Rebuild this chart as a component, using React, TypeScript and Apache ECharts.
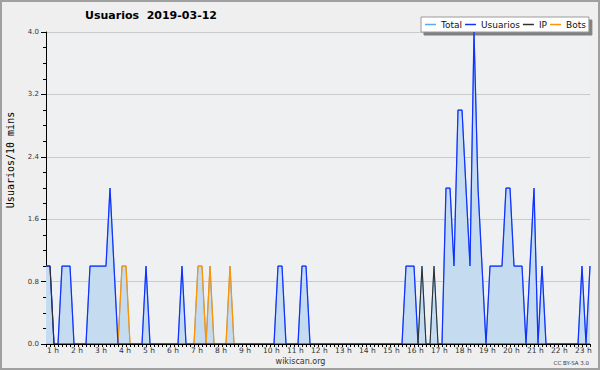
import { useEffect, useRef } from "react";
import * as echarts from "echarts";

// 10-minute points from 1:00 to 23:40
const START_HOUR = 1;
const POINTS = 137;
const categories: string[] = Array.from({ length: POINTS }, (_, i) =>
  `${START_HOUR + Math.floor(i / 6)}:${String((i % 6) * 10).padStart(2, "0")}`
);

const seriesNames = ["Total", "Usuarios", "IP", "Bots"];

// one row per hour (6 points of 10 minutes)
const total = [
  1, 1, 0, 0, 1, 1, // 1h
  1, 0, 0, 0, 0, 1, // 2h
  1, 1, 1, 1, 2, 1, // 3h
  0, 1, 1, 0, 0, 0, // 4h
  0, 1, 0, 0, 0, 0, // 5h
  0, 0, 0, 0, 1, 0, // 6h
  0, 0, 1, 1, 0, 1, // 7h
  0, 0, 0, 0, 1, 0, // 8h
  0, 0, 0, 0, 0, 0, // 9h
  0, 0, 0, 0, 1, 1, // 10h
  0, 0, 0, 0, 1, 1, // 11h
  0, 0, 0, 0, 0, 0, // 12h
  0, 0, 0, 0, 0, 0, // 13h
  0, 0, 0, 0, 0, 0, // 14h
  0, 0, 0, 0, 0, 0, // 15h
  1, 1, 1, 0, 1, 0, // 16h
  0, 1, 0, 0, 2, 2, // 17h
  1, 3, 3, 2, 1, 4, // 18h
  2, 1, 0, 1, 1, 1, // 19h
  1, 2, 2, 1, 1, 1, // 20h
  0, 1, 2, 0, 1, 0, // 21h
  0, 0, 0, 0, 0, 0, // 22h
  0, 0, 1, 0, 1,    // 23h
];

const usuarios = [
  1, 1, 0, 0, 1, 1,
  1, 0, 0, 0, 0, 1,
  1, 1, 1, 1, 2, 1,
  0, 0, 0, 0, 0, 0,
  0, 1, 0, 0, 0, 0,
  0, 0, 0, 0, 1, 0,
  0, 0, 0, 0, 0, 0,
  0, 0, 0, 0, 0, 0,
  0, 0, 0, 0, 0, 0,
  0, 0, 0, 0, 1, 1,
  0, 0, 0, 0, 1, 1,
  0, 0, 0, 0, 0, 0,
  0, 0, 0, 0, 0, 0,
  0, 0, 0, 0, 0, 0,
  0, 0, 0, 0, 0, 0,
  1, 1, 1, 0, 0, 0,
  0, 0, 0, 0, 2, 2,
  1, 3, 3, 2, 1, 4,
  2, 1, 0, 1, 1, 1,
  1, 2, 2, 1, 1, 1,
  0, 1, 2, 0, 1, 0,
  0, 0, 0, 0, 0, 0,
  0, 0, 1, 0, 1,
];

const ip = [
  1, 1, 0, 0, 0, 0,
  0, 0, 0, 0, 0, 0,
  0, 0, 0, 0, 0, 0,
  0, 0, 0, 0, 0, 0,
  0, 0, 0, 0, 0, 0,
  0, 0, 0, 0, 0, 0,
  0, 0, 0, 0, 0, 0,
  0, 0, 0, 0, 0, 0,
  0, 0, 0, 0, 0, 0,
  0, 0, 0, 0, 0, 0,
  0, 0, 0, 0, 0, 0,
  0, 0, 0, 0, 0, 0,
  0, 0, 0, 0, 0, 0,
  0, 0, 0, 0, 0, 0,
  0, 0, 0, 0, 0, 0,
  0, 0, 0, 0, 1, 0,
  0, 1, 0, 0, 0, 0,
  0, 0, 0, 0, 0, 0,
  0, 0, 0, 0, 0, 0,
  0, 0, 0, 0, 0, 0,
  0, 0, 0, 0, 0, 0,
  0, 0, 0, 0, 0, 0,
  0, 0, 0, 0, 0,
];

const bots = [
  0, 0, 0, 0, 0, 0,
  0, 0, 0, 0, 0, 0,
  0, 0, 0, 0, 0, 0,
  0, 1, 1, 0, 0, 0,
  0, 0, 0, 0, 0, 0,
  0, 0, 0, 0, 0, 0,
  0, 0, 1, 1, 0, 1,
  0, 0, 0, 0, 1, 0,
  0, 0, 0, 0, 0, 0,
  0, 0, 0, 0, 0, 0,
  0, 0, 0, 0, 0, 0,
  0, 0, 0, 0, 0, 0,
  0, 0, 0, 0, 0, 0,
  0, 0, 0, 0, 0, 0,
  0, 0, 0, 0, 0, 0,
  0, 0, 0, 0, 0, 0,
  0, 0, 0, 0, 0, 0,
  0, 0, 0, 0, 0, 0,
  0, 0, 0, 0, 0, 0,
  0, 0, 0, 0, 0, 0,
  0, 0, 0, 0, 0, 0,
  0, 0, 0, 0, 0, 0,
  0, 0, 0, 0, 0,
];

const colors = {
  total: "#5aaaf0",
  usuarios: "#1430ff",
  ip: "#303030",
  bots: "#ff9400",
  fill: "#c5dbf0",
};

export default function App() {
  const ref = useRef<HTMLDivElement>(null);

  useEffect(() => {
    document.body.style.margin = "0";
    const chart = echarts.init(ref.current!, null, { renderer: "svg" });
    const font = "DejaVu Sans";
    chart.setOption({
      animation: false,
      backgroundColor: "#efefef",
      title: {
        text: "Usuarios\u00a0\u00a02019-03-12",
        left: 151,
        top: 10,
        padding: 0,
        textAlign: "center",
        textStyle: { fontFamily: font, fontWeight: "bold", fontSize: 11, color: "#000" },
      },
      legend: {
        data: seriesNames,
        left: 421,
        top: 17,
        orient: "horizontal",
        backgroundColor: "#ffffff",
        borderColor: "#9a9a9a",
        borderWidth: 1,
        padding: [3, 3, 3, 4],
        itemGap: 3,
        itemWidth: 11,
        itemHeight: 1.5,
        icon: "rect",
        selectedMode: false,
        shadowColor: "#808080",
        shadowOffsetX: 3,
        shadowOffsetY: 3,
        shadowBlur: 0,
        textStyle: { fontFamily: font, fontSize: 9, color: "#111" },
      },
      grid: {
        left: 46,
        right: 10,
        top: 32,
        bottom: 26,
        show: true,
        backgroundColor: "#eef0f2",
        borderWidth: 0,
      },
      xAxis: {
        type: "category",
        data: categories,
        boundaryGap: false,
        z: 6,
        axisLine: { lineStyle: { color: "#000", width: 1 } },
        axisTick: { show: true, interval: 0, length: 3, lineStyle: { color: "#000" } },
        axisLabel: {
          interval: (i: number) => i % 6 === 0,
          formatter: (v: string) => `${parseInt(v, 10)} h`,
          align: "left",
          fontSize: 7.5,
          fontFamily: font,
          color: "#333",
          margin: 2,
          padding: [0, 0, 0, 1],
        },
        splitLine: { show: false },
      },
      yAxis: {
        type: "value",
        min: 0,
        max: 4,
        interval: 0.8,
        axisLine: { show: true, lineStyle: { color: "#000" } },
        axisTick: { show: true, length: 5, lineStyle: { color: "#000" } },
        minorTick: { show: true, splitNumber: 4, length: 3, lineStyle: { color: "#000" } },
        axisLabel: {
          formatter: (v: number) => v.toFixed(1),
          fontSize: 7,
          fontFamily: font,
          color: "#333",
          margin: 7,
        },
        splitLine: { lineStyle: { color: "#cacaca", width: 1 } },
      },
      graphic: [
        {
          type: "rect",
          silent: true,
          z: 100,
          shape: { x: 1, y: 1, width: 598, height: 368 },
          style: { fill: "none", stroke: "#a0a0a0", lineWidth: 2 },
        },
        {
          type: "text",
          x: 10.5,
          y: 160,
          rotation: Math.PI / 2,
          style: {
            text: "Usuarios/10 mins",
            font: '10px "DejaVu Sans Mono"',
            fill: "#000",
            textAlign: "center",
            textVerticalAlign: "middle",
          },
        },
        {
          type: "text",
          x: 300.5,
          y: 361.5,
          style: {
            text: "wikiscan.org",
            font: '8px "DejaVu Sans"',
            fill: "#333",
            textAlign: "center",
            textVerticalAlign: "middle",
          },
        },
        {
          type: "text",
          x: 589,
          y: 362.5,
          style: {
            text: "CC BY-SA 3.0",
            font: '5.5px "DejaVu Sans"',
            fill: "#333",
            textAlign: "right",
            textVerticalAlign: "middle",
          },
        },
      ],
      series: [
        {
          name: "Total",
          type: "line",
          data: total,
          symbol: "none",
          z: 2,
          lineStyle: { color: colors.total, width: 1 },
          itemStyle: { color: colors.total },
          areaStyle: { color: colors.fill, opacity: 1 },
        },
        {
          name: "Usuarios",
          type: "line",
          data: usuarios,
          symbol: "none",
          z: 4,
          lineStyle: { color: colors.usuarios, width: 1.25 },
          itemStyle: { color: colors.usuarios },
        },
        {
          name: "IP",
          type: "line",
          data: ip,
          symbol: "none",
          z: 5,
          lineStyle: { color: colors.ip, width: 1.1 },
          itemStyle: { color: colors.ip },
        },
        {
          name: "Bots",
          type: "line",
          data: bots,
          symbol: "none",
          z: 3,
          lineStyle: { color: colors.bots, width: 1.25 },
          itemStyle: { color: colors.bots },
        },
      ],
    });
    return () => chart.dispose();
  }, []);

  return (
    <div
      ref={ref}
      style={{ position: "fixed", left: 0, top: 0, width: 600, height: 370 }}
    />
  );
}
